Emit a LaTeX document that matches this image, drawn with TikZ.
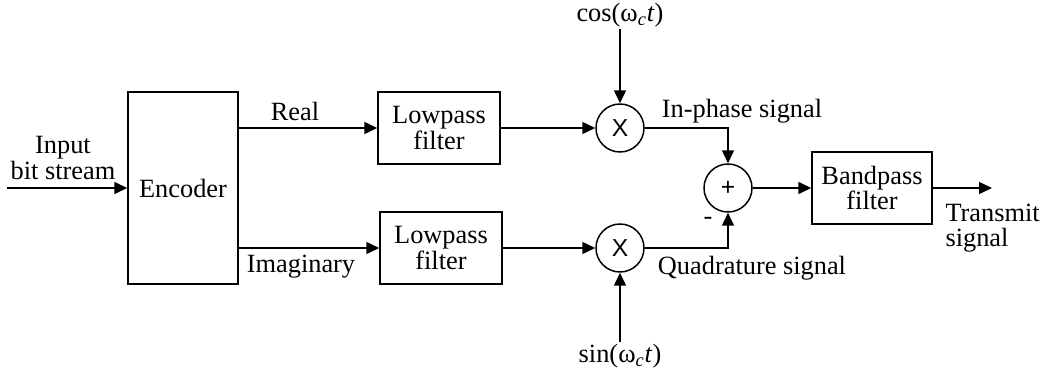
\documentclass[tikz,border=0pt]{standalone}
\usepackage{fontspec}
\setmainfont{Liberation Serif}
\newfontfamily\opfont{Liberation Sans}
\usetikzlibrary{arrows.meta}

\begin{document}
\begin{tikzpicture}[x=0.02cm,y=-0.02cm,
  >={Triangle[length=2.6mm,width=2.4mm]},
  line width=0.85pt,
  font=\fontsize{15}{14.5}\selectfont,
  block/.style={
    align=center,
    rectangle,
    draw,
    minimum width=2.44cm,
    minimum height=1.44cm
  },
  mixer/.style={
    circle,
    draw,
    inner sep=0pt,
    minimum size=0.96cm,
    font=\fontsize{14}{14}\opfont
  },
  label/.style={
    align=center,
    inner sep=1pt
  },
  arrow/.style={
    ->
  }
  ]

  \useasboundingbox (0,0) rectangle (1042,372);

  \node [block, minimum width=2.2cm, minimum height=3.84cm] (enc) at (183,188) {Encoder};
  \node [block] (lpfre) at (439,128) {Lowpass\\filter};
  \node [block] (lpfim) at (441,248) {Lowpass\\filter};
  \node [mixer] (mixre) at (620,128) {X};
  \node [mixer] (mixim) at (620,248) {X};
  \node [mixer] (summer) at (728,188) {+};
  \node [block, minimum width=2.4cm] (bpf) at (872,188) {Bandpass\\filter};

  \coordinate (inp) at (7,188);
  \coordinate (out) at (992,188);

  \node [label] (inlab) at (63,158) {Input\\bit stream};
  \node [label] (relab) at (295,111) {Real};
  \node [label] (imlab) at (301,267) {Imaginary};
  \node [label] (coslab) at (620,15) {cos(ω\textsubscript{\textit{c}}\textit{t})};
  \node [label] (sinlab) at (620,356) {sin(ω\textsubscript{\textit{c}}\textit{t})};
  \node [label] (iplab) at (742,111) {In-phase signal};
  \node [label] (qdlab) at (752,268) {Quadrature signal};
  \node [label] (minus) at (708,221) {-};
  \node [label, align=left, anchor=west] (txlab) at (943,228) {Transmit\\signal};

  \draw [arrow] (inp) -- (enc);
  \draw [arrow] (lpfre -| enc.east) ++ (-2,0) -- (lpfre);
  \draw [arrow] (lpfim -| enc.east) ++ (-2,0) -- (lpfim);

  \draw [arrow] (lpfre) -- (mixre);
  \draw [arrow] (lpfim) -- (mixim);
  \draw [arrow] (coslab) -- (mixre);
  \draw [arrow] (sinlab) -- (mixim);

  \draw [arrow] (mixre) -| (summer);
  \draw [arrow] (mixim) -| (summer);

  \draw [arrow] (summer) -- (bpf);
  \draw [arrow] (bpf) -- (out);

\end{tikzpicture}
\end{document}
